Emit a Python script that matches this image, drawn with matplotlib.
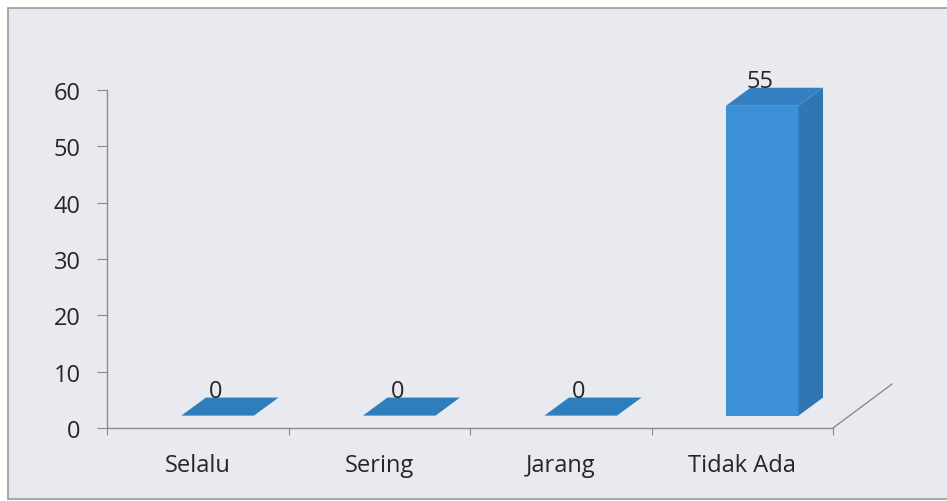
import matplotlib
matplotlib.use("Agg")
import matplotlib.pyplot as plt
from matplotlib.patches import Polygon, Rectangle
from matplotlib.lines import Line2D

categories = ["Selalu", "Sering", "Jarang", "Tidak Ada"]
values = [0, 0, 0, 55]
yticks = [0, 10, 20, 30, 40, 50, 60]

plt.rcParams['font.family'] = ['Open Sans', 'DejaVu Sans']

W, H = 947, 502
fig = plt.figure(figsize=(W / 100, H / 100), dpi=100)
fig.patch.set_facecolor("white")

# outer chart frame
frame = Rectangle((8 / W, 2 / H), 1.2, (H - 11) / H, transform=fig.transFigure,
                  facecolor="#e8eaef", edgecolor="#9a9a9a", linewidth=1.2, zorder=-10)
fig.patches.append(frame)

ax = fig.add_axes([107 / W, (H - 429) / H, 726 / W, 338 / H])
ax.set_zorder(5)
ax.set_facecolor("none")
ax.set_xlim(-0.5, 3.5)
ax.set_ylim(0, 60)

for s in ["top", "right"]:
    ax.spines[s].set_visible(False)
ax.spines["left"].set_color("#8c8c8c")
ax.spines["bottom"].set_color("#8c8c8c")
ax.spines["left"].set_linewidth(1.0)
ax.spines["bottom"].set_linewidth(1.0)

fs = 17
ax.set_yticks(yticks)
ax.set_yticklabels([str(t) for t in yticks])
ax.tick_params(axis="y", length=7, color="#8c8c8c", pad=12, labelsize=fs, labelcolor="#262626")

ax.set_xticks([-0.5, 0.5, 1.5, 2.5, 3.5])
ax.set_xticklabels([])
ax.tick_params(axis="x", which="major", length=5, color="#8c8c8c", direction="out")
ax.set_xticks(range(len(categories)), minor=True)
ax.set_xticklabels(categories, minor=True)
ax.tick_params(axis="x", which="minor", length=0, pad=18, labelsize=fs, labelcolor="#262626")

# floor depth line at right
floor_dx, floor_dy = 0.325, 7.8
ax.add_line(Line2D([3.5, 3.5 + floor_dx], [0, floor_dy], color="#8c8c8c", lw=1.0, clip_on=False))

# 3D bars
off, half_w = 0.11, 0.2
dx, dy = 0.135, 3.2
base = 2.2
front_c, side_c, top_c = "#3b90d6", "#2f76b3", "#3480c2"
for i, v in enumerate(values):
    x0, x1 = i + off - half_w, i + off + half_w
    yb, yt = base, base + v
    if v > 0:
        ax.add_patch(Polygon([(x0, yb), (x1, yb), (x1, yt), (x0, yt)], closed=True,
                             facecolor=front_c, edgecolor="none", clip_on=False, zorder=3))
        ax.add_patch(Polygon([(x1, yb), (x1 + dx, yb + dy), (x1 + dx, yt + dy), (x1, yt)], closed=True,
                             facecolor=side_c, edgecolor="none", clip_on=False, zorder=3))
        ax.add_patch(Polygon([(x0, yt), (x1, yt), (x1 + dx, yt + dy), (x0 + dx, yt + dy)], closed=True,
                             facecolor=top_c, edgecolor="none", clip_on=False, zorder=3))
    else:
        ax.add_patch(Polygon([(x0, yt), (x1, yt), (x1 + dx, yt + dy), (x0 + dx, yt + dy)], closed=True,
                             facecolor="#2e7dbd", edgecolor="none", clip_on=False, zorder=3))
    ax.text(i + 0.1, v + 6.6, str(v), ha="center", va="center", fontsize=fs,
            color="#262626", zorder=4, clip_on=False)

fig.savefig("out.png", dpi=100)
